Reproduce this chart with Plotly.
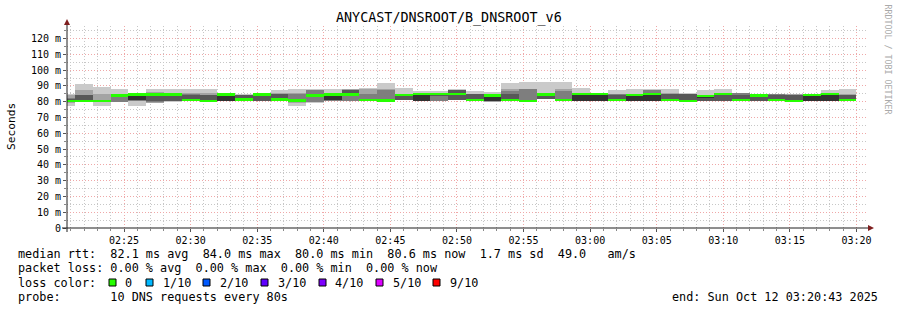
import plotly.graph_objects as go
from datetime import datetime, timedelta

# ---------------- data ----------------
start_time = "2025-10-12 02:20:00"   # start of first 80 s bin
step_seconds = 80
view_start = "2025-10-12 02:20:43"
view_end = "2025-10-12 03:20:43"

# sorted ping RTTs (ms) per 80 s bin: p1 = fastest ... p10 = slowest
p1  = [77.0,80.3,77.0,79.6,77.0,79.3,80.0,80.6,80.2,80.4,80.2,80.2,80.6,77.0,79.5,80.6,80.3,80.5,80.2,80.8,80.4,80.4,80.8,80.6,80.0,80.6,80.0,81.8,80.6,80.4,80.4,80.6,80.4,80.3,80.6,79.9,80.4,80.3,80.7,80.3,80.6,79.9,80.4,80.4,80.6]
p2  = [79.5,80.3,80.2,79.7,80.6,79.5,80.2,80.6,80.2,80.4,80.4,80.2,80.6,79.5,79.6,80.7,80.4,80.5,80.2,80.9,80.4,80.4,80.9,80.6,80.1,80.6,80.1,81.9,80.6,80.4,80.4,80.6,80.4,80.3,80.6,80.0,80.4,80.3,80.7,80.3,80.6,80.0,80.4,80.4,80.6]
p3  = [80.0,80.3,80.4,79.8,80.7,80.0,80.3,80.6,80.2,80.4,80.6,80.2,80.6,80.3,79.7,80.7,80.4,80.5,80.3,81.0,80.4,80.5,81.0,80.6,80.2,80.7,80.2,81.9,80.7,80.4,80.4,80.6,80.4,80.3,80.6,80.1,80.4,80.3,80.7,80.3,80.6,80.1,80.4,80.4,80.6]
p4  = [80.2,80.3,80.5,83.5,80.8,80.2,80.5,80.8,80.3,80.5,80.8,80.4,80.6,80.5,83.8,80.8,84.2,80.6,80.5,81.2,80.4,84.2,81.2,80.7,80.2,80.8,80.3,81.9,80.9,80.4,80.4,80.7,80.5,80.4,80.7,80.2,80.5,80.4,80.8,80.4,80.7,80.2,80.4,80.4,80.7]
p5  = [80.4,80.4,80.6,83.8,80.8,84.4,84.4,81.2,80.5,80.6,81.3,84.5,81.3,80.7,84.0,80.8,84.5,80.9,80.6,84.0,80.5,84.6,84.6,81.0,80.3,81.0,80.4,84.4,81.0,80.5,80.5,81.0,80.6,80.5,81.0,80.3,83.0,84.4,81.0,83.8,81.0,80.3,80.5,80.5,81.0]
p6  = [80.8,80.6,80.8,84.0,84.2,84.6,84.6,81.4,80.8,84.3,81.6,84.7,82.0,81.0,84.2,84.3,84.7,81.1,80.8,84.3,84.3,84.8,84.8,81.4,83.6,81.4,80.6,84.7,81.4,84.3,84.3,81.3,83.8,84.2,81.3,80.6,83.6,84.7,81.3,84.0,81.3,80.6,83.8,84.3,81.3]
p7  = [81.5,84.0,81.0,84.1,84.4,85.0,84.8,84.4,84.3,84.4,84.0,84.8,84.8,82.0,84.4,84.5,87.6,81.3,81.0,84.6,84.7,84.9,87.5,85.0,84.0,84.7,80.8,85.0,81.6,84.6,84.6,84.5,84.0,84.5,85.1,85.0,84.0,84.9,84.4,84.2,84.5,84.4,84.0,84.6,84.3]
p8  = [82.5,84.0,81.2,84.2,84.5,85.2,85.0,84.6,84.5,84.5,84.2,84.8,85.0,84.8,87.3,84.8,87.7,85.1,87.7,84.8,84.8,85.0,87.6,85.1,84.2,87.0,87.8,85.3,87.0,84.8,84.8,84.6,84.2,87.6,85.2,85.1,84.2,85.0,85.3,84.3,84.6,84.5,84.2,84.8,84.5]
p9  = [84.0,87.6,85.0,84.5,84.6,86.0,85.5,85.8,85.5,84.6,84.5,84.9,85.5,85.5,87.5,85.1,87.8,88.3,87.8,85.2,84.9,85.0,87.7,85.2,84.5,87.8,88.0,85.5,88.0,85.1,85.0,84.7,84.4,87.7,85.3,85.2,84.4,85.2,85.4,84.4,84.6,84.6,84.4,85.0,84.7]
p10 = [85.2,91.4,89.1,88.3,85.0,88.0,88.2,88.3,88.3,85.5,84.8,85.2,87.6,88.3,88.0,88.3,87.9,88.5,92.0,88.8,86.5,86.5,87.8,86.5,86.0,92.0,92.7,92.7,92.7,88.8,85.2,87.6,88.3,87.8,88.3,85.3,87.6,88.3,85.5,84.5,84.7,84.7,84.6,87.6,88.3]
median = [80.6,80.6,80.6,84.0,84.5,84.5,84.5,81.2,80.6,84.5,81.5,84.6,81.3,80.7,84.0,84.6,84.6,81.0,80.7,84.2,84.8,84.8,84.8,81.2,84.0,81.2,80.5,84.6,81.2,84.8,84.8,81.1,84.2,84.8,81.1,80.4,83.7,84.8,81.2,84.1,81.1,80.4,84.3,84.8,81.1]

y_tick_vals = [0, 10, 20, 30, 40, 50, 60, 70, 80, 90, 100, 110, 120]
y_tick_text = ["0", "10 m", "20 m", "30 m", "40 m", "50 m", "60 m", "70 m", "80 m", "90 m", "100 m", "110 m", "120 m"]

title_text = "ANYCAST/DNSROOT/B_DNSROOT_v6"
loss_labels = ["0", "1/10", "2/10", "3/10", "4/10", "5/10", "9/10"]
loss_colors = ["#26ff00", "#00b8ff", "#0059ff", "#5e00ff", "#7e00ff", "#dd00ff", "#ff0000"]
row_median = "median rtt:  82.1 ms avg  84.0 ms max  80.0 ms min  80.6 ms now  1.7 ms sd  49.0   am/s"
row_loss = "packet loss: 0.00 % avg  0.00 % max  0.00 % min  0.00 % now"
row_probe = "probe:       10 DNS requests every 80s"
row_end = "end: Sun Oct 12 03:20:43 2025"

# ---------------- geometry ----------------
W, H = 897, 310
L, R, T, B = 67, 31, 26, 82
PW, PH = W - L - R, H - T - B


def fx(px):
    return (px - L) / PW


def fy(py):
    return 1 - (py - T) / PH


MONO = "DejaVu Sans Mono"
t0 = datetime.fromisoformat(start_time)
centers = [t0 + timedelta(seconds=step_seconds * i + step_seconds / 2) for i in range(len(median))]
width_ms = step_seconds * 1000

fig = go.Figure()
shade_colors = ["#cacaca", "#a4a4a4", "#7e7e7e", "#585858", "#323232"]
lows = [p1, p2, p3, p4, p5]
highs = [p10, p9, p8, p7, p6]
for lo, hi, col in zip(lows, highs, shade_colors):
    fig.add_trace(go.Bar(
        x=centers, base=lo, y=[h - l for l, h in zip(lo, hi)],
        width=width_ms, marker=dict(color=col, line=dict(width=0)),
        showlegend=False, hoverinfo="skip"))

swidth = 0.8
fig.add_trace(go.Bar(
    x=centers, base=[m - swidth for m in median], y=[2 * swidth] * len(median),
    width=width_ms, marker=dict(color=loss_colors[0], line=dict(width=0)),
    showlegend=False, hoverinfo="skip"))

grid_dash = "1px,2px"
fig.update_layout(
    width=W, height=H, margin=dict(l=L, r=R, t=T, b=B),
    paper_bgcolor="white", plot_bgcolor="white",
    barmode="overlay", bargap=0,
    font=dict(family=MONO, size=10, color="black"),
    showlegend=False,
    xaxis=dict(
        type="date", range=[view_start, view_end],
        tickformat="%H:%M", dtick=300000, tick0="2025-10-12 02:25:00",
        showgrid=True, gridcolor="#efa8a8", griddash=grid_dash, gridwidth=1,
        ticks="outside", ticklen=3, tickcolor="#555555",
        tickfont=dict(family=MONO, size=10, color="black"),
        showline=False, zeroline=False,
        minor=dict(dtick=60000, showgrid=True, gridcolor="#c7c7c7", griddash=grid_dash,
                   ticks="outside", ticklen=2, tickcolor="#888888"),
    ),
    yaxis=dict(
        range=[0, 128], tickvals=y_tick_vals, ticktext=y_tick_text,
        showgrid=True, gridcolor="#efa8a8", griddash=grid_dash, gridwidth=1,
        ticks="outside", ticklen=3, tickcolor="#555555",
        tickfont=dict(family=MONO, size=10, color="black"),
        showline=False, zeroline=False,
        minor=dict(dtick=5, showgrid=True, gridcolor="#c7c7c7", griddash=grid_dash,
                   ticks="outside", ticklen=2, tickcolor="#888888"),
    ),
)

shapes = []
# axes
shapes.append(dict(type="line", xref="paper", yref="paper", x0=fx(62), x1=fx(869), y0=fy(228), y1=fy(228),
                   line=dict(color="#1f1f1f", width=1)))
shapes.append(dict(type="line", xref="paper", yref="paper", x0=fx(67), x1=fx(67), y0=fy(232), y1=fy(24),
                   line=dict(color="#1f1f1f", width=1)))
# arrows
shapes.append(dict(type="path", xref="paper", yref="paper",
                   path=f"M {fx(64)},{fy(25)} L {fx(70)},{fy(25)} L {fx(67)},{fy(19)} Z",
                   fillcolor="#7f1f1f", line=dict(width=0)))
shapes.append(dict(type="path", xref="paper", yref="paper",
                   path=f"M {fx(868)},{fy(225)} L {fx(868)},{fy(231)} L {fx(874)},{fy(228)} Z",
                   fillcolor="#7f1f1f", line=dict(width=0)))
# loss colour boxes
box_x = [109, 146, 203, 261, 319, 376, 433]
for bx, col in zip(box_x, loss_colors):
    shapes.append(dict(type="rect", xref="paper", yref="paper",
                       x0=fx(bx), x1=fx(bx + 7), y0=fy(279), y1=fy(286),
                       fillcolor=col, line=dict(color="black", width=1)))
fig.update_layout(shapes=shapes)


def nb(s):
    return s.replace(" ", "\u00a0")


ann = []
ann.append(dict(text=nb(title_text), x=fx(449), y=fy(18.5), xref="paper", yref="paper",
                xanchor="center", yanchor="middle", showarrow=False,
                font=dict(family=MONO, size=13.4, color="black")))
ann.append(dict(text="Seconds", x=fx(11), y=fy(127), xref="paper", yref="paper",
                xanchor="center", yanchor="middle", showarrow=False, textangle=-90,
                font=dict(family=MONO, size=11.2, color="black")))
ann.append(dict(text=nb("RRDTOOL / TOBI OETIKER"), x=fx(887.5), y=fy(59), xref="paper", yref="paper",
                xanchor="center", yanchor="middle", showarrow=False, textangle=90,
                font=dict(family=MONO, size=8.3, color="#aaaaaa")))
legend_font = dict(family=MONO, size=11.8, color="black")
for txt, py in [(row_median, 254), (row_loss, 268.3), (row_probe, 296.7)]:
    ann.append(dict(text=nb(txt), x=fx(16), y=fy(py), xref="paper", yref="paper",
                    xanchor="left", yanchor="middle", showarrow=False, font=legend_font))
ann.append(dict(text=nb("loss color:"), x=fx(16), y=fy(282.7), xref="paper", yref="paper",
                xanchor="left", yanchor="middle", showarrow=False, font=legend_font))
label_x = [123, 160.7, 218, 276, 333, 391, 448]
for lx, lab in zip(label_x, loss_labels):
    ann.append(dict(text=lab, x=fx(lx), y=fy(282.7), xref="paper", yref="paper",
                    xanchor="left", yanchor="middle", showarrow=False, font=legend_font))
ann.append(dict(text=nb(row_end), x=fx(880.5), y=fy(296.7), xref="paper", yref="paper",
                xanchor="right", yanchor="middle", showarrow=False, font=legend_font))
fig.update_layout(annotations=ann)

fig.write_html("out.html")
